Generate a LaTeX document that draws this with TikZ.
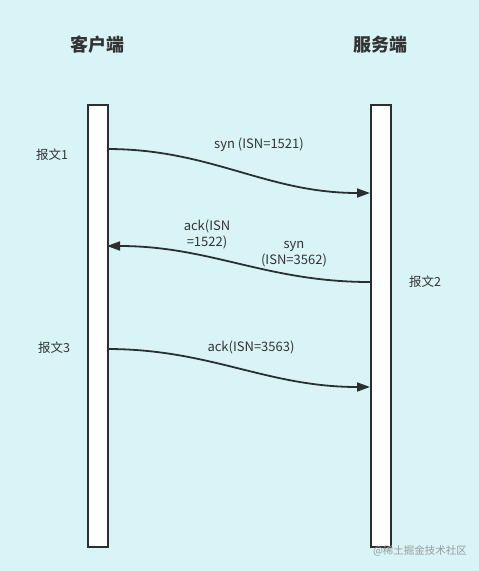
\documentclass[tikz,border=0pt]{standalone}
\usepackage{fontspec}
\setmainfont{Noto Sans CJK SC}
\usetikzlibrary{arrows.meta}
\definecolor{bgc}{HTML}{D9F4F6}
\definecolor{ink}{HTML}{2A3030}
\definecolor{txt}{HTML}{333333}
\tikzset{
  bar/.style={draw=ink, line width=2.2pt, fill=white, minimum width=20pt, minimum height=442pt, inner sep=0pt, anchor=north west},
  title/.style={font=\fontsize{18}{20}\selectfont\bfseries, text=txt},
  lbl/.style={font=\fontsize{13}{16}\selectfont, text=txt, align=center, inner sep=0pt},
  cn/.style={font=\fontsize{12.5}{15}\selectfont, text=txt, inner sep=0pt},
  msg/.style={draw=ink, line width=1.8pt, -{Triangle[length=13pt,width=9pt]}, out=0, in=180},
  msgback/.style={draw=ink, line width=1.8pt, -{Triangle[length=13pt,width=9pt]}, out=180, in=0},
}
\begin{document}
\begin{tikzpicture}[x=1pt,y=-1pt]
\fill[bgc] (0,0) rectangle (479,571);
\useasboundingbox (0,0) rectangle (479,571);
\node[bar] (cbar) at (87,104) {};
\node[bar] (sbar) at (370,104) {};
\node[title] (ct) at (97,45) {客户端};
\node[title] (st) at (380,45) {服务端};
\coordinate (a1) at (107,149);
\coordinate (b1) at (370,193);
\coordinate (a2) at (370,282);
\coordinate (b2) at (107,246);
\coordinate (a3) at (107,349);
\coordinate (b3) at (370,387);
\draw[msg] (a1) to (b1);
\draw[msgback] (a2) to (b2);
\draw[msg] (a3) to (b3);
\node[lbl] (l1) at (259,145) {syn (ISN=1521)};
\node[lbl] (l2) at (207,234) {ack(ISN\\=1522)};
\node[lbl] (l3) at (294,254) {syn\\(ISN=3562)};
\node[lbl] (l4) at (251,347) {ack(ISN=3563)};
\node[cn] (p1) at (52,155) {报文1};
\node[cn] (p2) at (425,282) {报文2};
\node[cn] (p3) at (54,348) {报文3};
\node[font=\fontsize{10.5}{12}\selectfont, text=gray!80, inner sep=0pt] (wm) at (420,551) {@稀土掘金技术社区};
\end{tikzpicture}
\end{document}
